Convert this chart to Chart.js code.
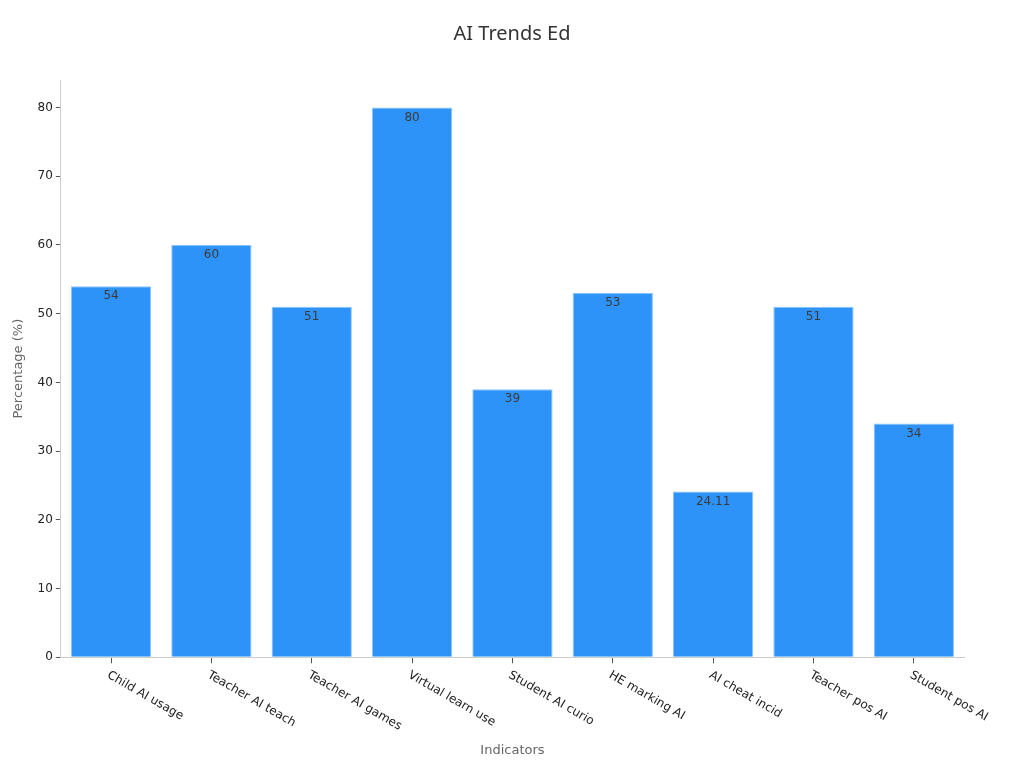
<!DOCTYPE html>
<html>
<head>
<meta charset="utf-8">
<title>AI Trends Ed</title>
<script src="https://cdn.jsdelivr.net/npm/chart.js"></script>
<style>
    html, body { margin: 0; padding: 0; background: #fff; }
    #wrap { width: 1024px; height: 768px; }
</style>
</head>
<body>
<div id="wrap"><canvas id="chart-1"></canvas></div>
<script>
// donnees du graphique
const chartTitle = "AI Trends Ed";
const categories = ["Child AI usage", "Teacher AI teach", "Teacher AI games", "Virtual learn use",
    "Student AI curio", "HE marking AI", "AI cheat incid", "Teacher pos AI", "Student pos AI"];
const values = [54, 60, 51, 80, 39, 53, 24.11, 51, 34];
const yTicks = [0, 10, 20, 30, 40, 50, 60, 70, 80];

// titre centre sur toute la largeur
const centeredTitle = {
    id: "centeredTitle",
    afterDraw(chart) {
        const ctx = chart.ctx;
        ctx.save();
        ctx.font = "20px 'Noto Sans'";
        ctx.fillStyle = "#333";
        ctx.textAlign = "center";
        ctx.textBaseline = "middle";
        ctx.fillText(chartTitle, chart.width / 2, 34);
        ctx.restore();
    }
};

// etiquettes de valeur dans le haut des barres
const valueLabels = {
    id: "valueLabels",
    afterDatasetsDraw(chart) {
        const ctx = chart.ctx;
        const meta = chart.getDatasetMeta(0);
        ctx.save();
        ctx.font = "12px 'DejaVu Sans'";
        ctx.fillStyle = "#3a3a3a";
        ctx.textAlign = "center";
        ctx.textBaseline = "middle";
        meta.data.forEach(function(bar, i) {
            ctx.fillText(String(values[i]), bar.x, bar.y + 10);
        });
        ctx.restore();
    }
};

// etiquettes x inclinees vers le bas a droite
const slantedLabels = {
    id: "slantedLabels",
    afterDraw(chart) {
        const ctx = chart.ctx;
        const xs = chart.scales.x;
        ctx.save();
        ctx.font = "12px 'DejaVu Sans'";
        ctx.fillStyle = "#222";
        ctx.textAlign = "left";
        ctx.textBaseline = "middle";
        categories.forEach(function(label, i) {
            const x = xs.getPixelForTick(i);
            ctx.save();
            ctx.translate(x - 3, xs.top + 17);
            ctx.rotate(Math.PI / 6);
            ctx.fillText(label, 0, 0);
            ctx.restore();
        });
        ctx.restore();
    }
};

const dataChart = {
    labels: categories,
    datasets: [{
        label: "Percentage",
        data: values,
        backgroundColor: "#2e93f9",
        borderColor: "#8cc4fa",
        borderWidth: 1,
        barPercentage: 0.8,
        categoryPercentage: 1.0
    }]
};

const configChart = {
    type: "bar",
    data: dataChart,
    plugins: [valueLabels, slantedLabels, centeredTitle],
    options: {
        responsive: true,
        maintainAspectRatio: false,
        animation: false,
        layout: { padding: { left: 7, right: 60, top: 80, bottom: 6 } },
        plugins: {
            legend: { display: false },
            tooltip: { enabled: false },
            title: { display: false }
        },
        scales: {
            x: {
                grid: { display: true, offset: false, drawOnChartArea: false, tickLength: 6, tickColor: "#555" },
                border: { color: "#ccc" },
                ticks: {
                    color: "rgba(0,0,0,0)",
                    font: { family: "DejaVu Sans", size: 11 },
                    minRotation: 30,
                    maxRotation: 30
                },
                title: {
                    display: true,
                    text: "Indicators",
                    color: "#666",
                    font: { family: "DejaVu Sans", size: 13 },
                    padding: { top: 13 }
                }
            },
            y: {
                min: 0,
                max: 84,
                afterBuildTicks: function(axis) {
                    axis.ticks = yTicks.map(function(v) { return { value: v }; });
                },
                grid: { display: true, drawOnChartArea: false, tickLength: 5, tickColor: "#555" },
                border: { color: "#ccc" },
                ticks: {
                    color: "#222",
                    font: { family: "DejaVu Sans", size: 12 },
                    padding: 3
                },
                title: {
                    display: true,
                    text: "Percentage (%)",
                    color: "#666",
                    font: { family: "DejaVu Sans", size: 13 },
                    padding: { bottom: 8 }
                }
            }
        }
    }
};

const chart = new Chart(document.getElementById("chart-1"), configChart);
</script>
</body>
</html>
